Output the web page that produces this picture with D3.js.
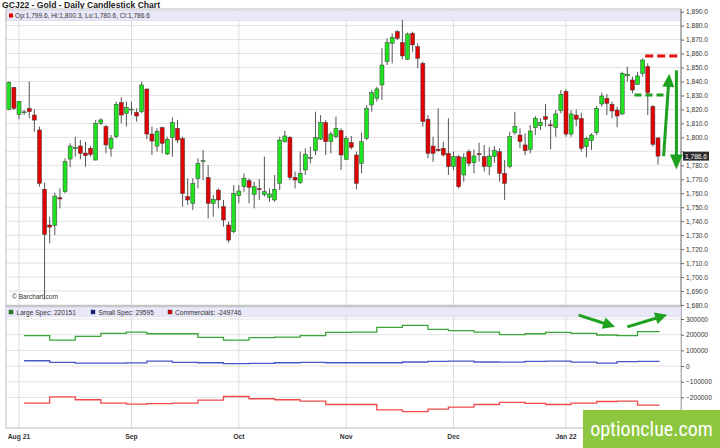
<!DOCTYPE html>
<html><head><meta charset="utf-8">
<script src="https://cdn.jsdelivr.net/npm/d3@7"></script>
<style>body{margin:0;background:#fff}svg{display:block}</style>
</head><body>
<svg id="c" width="720" height="448"></svg>
<script>
// ---- DATA ----
const opens  = [1820.1,1835.8,1816.5,1817.8,1820.8,1816.0,1805.3,1762.8,1737.3,1736.8,1756.8,1761.2,1784.5,1792.0,1793.8,1788.8,1792.2,1783.8,1810.1,1807.7,1792.2,1800.5,1824.9,1817.2,1820.1,1817.9,1818.4,1834.6,1802.4,1793.8,1807.0,1788.1,1800.0,1806.5,1799.1,1757.6,1752.8,1770.7,1783.1,1771.2,1752.8,1762.3,1750.4,1737.3,1732.5,1758.3,1764.7,1769.0,1759.2,1763.3,1759.2,1757.1,1755.2,1767.1,1797.0,1800.0,1771.4,1767.6,1776.7,1785.5,1790.5,1798.8,1810.6,1796.9,1800.5,1804.8,1784.3,1796.2,1787.4,1781.4,1799.3,1823.2,1828.0,1837.5,1854.2,1867.4,1875.7,1867.8,1855.9,1874.5,1865.0,1853.0,1813.0,1793.8,1791.5,1792.2,1788.6,1779.1,1786.2,1773.1,1789.8,1781.9,1788.3,1786.2,1779.1,1786.2,1789.8,1774.3,1779.1,1803.4,1801.7,1794.6,1791.4,1807.0,1808.4,1814.9,1809.0,1807.2,1819.1,1832.8,1802.4,1816.0,1813.6,1793.4,1797.7,1803.4,1823.9,1828.0,1823.7,1819.6,1816.8,1844.0,1841.1,1838.0,1845.9,1850.6,1822.0,1799.6];
const highs  = [1840.0,1836.3,1826.0,1819.6,1839.9,1820.0,1807.7,1767.6,1743.2,1760.4,1763.5,1785.0,1795.8,1800.5,1798.1,1796.9,1793.8,1812.5,1813.7,1808.9,1801.7,1825.6,1828.7,1825.6,1825.6,1820.8,1839.9,1835.1,1807.7,1806.5,1807.7,1800.5,1814.4,1812.5,1800.5,1770.7,1770.7,1785.0,1791.0,1780.2,1758.7,1763.5,1755.2,1739.7,1765.9,1765.9,1774.3,1770.7,1768.3,1770.2,1786.2,1763.5,1773.1,1800.5,1804.8,1801.0,1775.5,1789.8,1792.2,1793.4,1818.4,1816.0,1812.5,1804.1,1814.9,1806.5,1801.0,1801.0,1789.8,1803.4,1823.2,1833.9,1836.3,1863.8,1870.9,1874.5,1876.9,1884.0,1875.0,1875.7,1867.4,1854.2,1816.0,1800.5,1820.8,1796.9,1813.7,1789.8,1787.4,1788.6,1791.4,1791.4,1796.2,1794.6,1792.9,1793.8,1792.2,1783.8,1804.1,1818.4,1806.5,1802.9,1808.9,1815.3,1813.7,1823.9,1812.5,1819.6,1833.9,1834.4,1819.6,1820.0,1817.7,1800.5,1802.9,1822.5,1832.0,1831.1,1825.6,1822.0,1847.0,1850.6,1843.5,1847.0,1856.6,1853.0,1823.2,1800.3];
const lows   = [1819.5,1819.6,1813.0,1816.0,1813.7,1804.0,1764.7,1684.0,1724.2,1730.1,1749.2,1760.0,1778.6,1786.2,1784.3,1779.0,1786.2,1783.5,1808.9,1788.6,1786.2,1799.3,1810.1,1807.7,1816.0,1811.3,1817.2,1798.6,1787.4,1789.8,1788.6,1787.4,1786.2,1795.8,1750.4,1751.6,1748.0,1763.5,1769.5,1742.0,1743.2,1749.2,1736.1,1724.6,1731.3,1752.8,1761.1,1752.8,1749.2,1755.2,1757.6,1754.0,1754.0,1762.3,1796.2,1769.5,1763.5,1766.6,1773.1,1781.4,1787.4,1798.1,1787.4,1788.6,1799.3,1776.7,1784.3,1791.4,1762.8,1774.3,1798.1,1818.4,1825.6,1826.8,1851.8,1853.0,1869.7,1855.9,1855.4,1861.4,1849.5,1807.7,1785.0,1782.6,1789.8,1786.2,1773.1,1776.7,1763.5,1768.3,1779.1,1774.3,1782.6,1775.5,1773.1,1781.9,1768.3,1755.2,1777.9,1801.7,1792.2,1787.4,1788.6,1801.7,1805.3,1807.7,1791.4,1800.5,1817.2,1800.5,1800.5,1808.0,1789.8,1785.7,1791.0,1801.7,1822.0,1816.0,1813.7,1807.2,1816.0,1839.9,1831.6,1837.5,1843.5,1816.0,1793.4,1780.6];
const closes = [1839.4,1820.8,1825.8,1818.3,1818.4,1812.4,1767.1,1730.6,1735.8,1758.0,1755.9,1782.6,1793.8,1792.6,1788.6,1786.9,1787.9,1810.1,1812.5,1794.6,1799.3,1823.7,1816.0,1821.5,1820.3,1815.3,1837.5,1802.4,1797.4,1804.1,1795.8,1798.6,1810.8,1798.1,1759.9,1755.2,1767.1,1781.4,1783.3,1752.8,1755.7,1755.2,1740.9,1726.5,1759.9,1761.6,1770.7,1764.2,1764.7,1763.0,1761.1,1759.5,1762.8,1798.1,1801.0,1771.4,1769.5,1774.3,1787.9,1785.7,1799.8,1810.6,1796.9,1802.4,1806.5,1787.4,1799.3,1792.9,1767.1,1796.9,1820.8,1832.0,1834.7,1851.8,1867.8,1871.7,1870.9,1858.3,1874.0,1866.2,1856.6,1811.3,1788.6,1788.6,1790.5,1787.4,1779.1,1786.2,1764.7,1785.7,1781.4,1786.7,1787.9,1779.1,1786.7,1790.5,1774.3,1767.1,1800.5,1807.7,1797.0,1790.5,1804.6,1813.7,1810.8,1812.9,1808.4,1816.8,1830.8,1802.4,1816.8,1813.0,1792.2,1799.3,1801.7,1820.8,1829.6,1824.4,1818.9,1815.3,1845.9,1845.2,1833.9,1844.0,1855.4,1832.0,1795.0,1786.6];

const monthIdx    = [2, 24, 45, 66, 87, 109];
const monthLabels = ["Aug 21", "Sep", "Oct", "Nov", "Dec", "Jan 22"];
const priceTicks  = [1680,1690,1700,1710,1720,1730,1740,1750,1760,1770,1780,1790,1800,1810,1820,1830,1840,1850,1860,1870,1880,1890];
const cotTicks    = [300000,200000,100000,0,-100000,-200000];

const cotIdx      = [3,8,13,18,23,27,32,37,42,47,52,57,62,67,72,77,82,86,91,96,101,105,110,115,119,123];
const cotEndIdx   = 127.3;
const largeSpec   = [193600,166000,189000,208500,217000,206000,206000,183000,166000,181000,185000,194000,215000,216000,247000,260000,234000,226000,217000,200000,206000,215000,208000,198000,194000,220151];
const smallSpec   = [34000,23000,19000,19000,20000,32000,24000,21000,16000,17000,21000,23000,21000,21000,21000,26000,30000,31000,26000,25000,30000,31000,25000,19000,28000,29595];
const commercials = [-236000,-196000,-215000,-236000,-243000,-239000,-236000,-217000,-194000,-208500,-215000,-223000,-245000,-245000,-279000,-291000,-274000,-262000,-245000,-232000,-238000,-245000,-236000,-226000,-223000,-249746];

// ---- LAYOUT ----
const svg = d3.select("#c");
const L = 6, R = 681, T1 = 9, B1 = 306, B2 = 428;
const FONT = "'Liberation Sans', Arial, sans-serif";
const x  = d3.scaleLinear().domain([0, 127]).range([8.8, 658]);
const yP = d3.scaleLinear().domain([1678.6, 1891.9]).range([307, 9]);
const yC = d3.scaleLinear().domain([-395000, 383000]).range([428, 306]);

svg.append("defs").html(
  '<clipPath id="cp1"><rect x="'+L+'" y="'+T1+'" width="'+(R-L)+'" height="'+(B1-T1)+'"/></clipPath>' +
  '<clipPath id="cpAx"><rect x="0" y="0" width="705" height="448"/></clipPath>');

svg.append("text").attr("x", 2).attr("y", 8).attr("font-family", FONT)
  .attr("font-size", 8.6).attr("font-weight", "bold").attr("fill", "#222")
  .text("GCJ22 - Gold - Daily Candlestick Chart");

svg.append("rect").attr("x", L).attr("y", T1).attr("width", R-L).attr("height", B2-T1).attr("fill", "#fff");

// grids
svg.append("g").selectAll("line").data(priceTicks).join("line")
  .attr("x1", L).attr("x2", R).attr("y1", d => yP(d)).attr("y2", d => yP(d))
  .attr("stroke", "#e2e2e2").attr("stroke-width", 1);
svg.append("g").selectAll("line").data(cotTicks).join("line")
  .attr("x1", L).attr("x2", R).attr("y1", d => yC(d)).attr("y2", d => yC(d))
  .attr("stroke", "#e2e2e2").attr("stroke-width", 1);
svg.append("g").selectAll("line").data(monthIdx).join("line")
  .attr("x1", d => x(d)).attr("x2", d => x(d)).attr("y1", T1).attr("y2", B2)
  .attr("stroke", "#dcdcdc").attr("stroke-width", 1);

// legend band upper
svg.append("rect").attr("x", L).attr("y", 10.5).attr("width", R-L).attr("height", 10)
  .attr("fill", "#e8e8f8").attr("stroke", "#d0d0e4").attr("stroke-width", 0.6);
const last = closes.length - 1;
const f1 = d3.format(",.1f");
svg.append("rect").attr("x", 9).attr("y", 13.5).attr("width", 4).attr("height", 4).attr("fill", "#e00000");
svg.append("text").attr("x", 15).attr("y", 18.3).attr("font-family", FONT).attr("font-size", 6.6).attr("fill", "#333")
  .text("Op:" + f1(opens[last]) + ", Hi:" + f1(highs[last]) + ", Lo:" + f1(lows[last]) + ", Cl:" + f1(closes[last]));

// candles
const cg = svg.append("g").attr("clip-path", "url(#cp1)");
const idx = d3.range(closes.length);
cg.selectAll("line.w").data(idx).join("line").attr("class", "w")
  .attr("x1", i => x(i)).attr("x2", i => x(i))
  .attr("y1", i => yP(highs[i])).attr("y2", i => yP(lows[i]))
  .attr("stroke", "#555").attr("stroke-width", 1);
cg.selectAll("rect.b").data(idx).join("rect").attr("class", "b")
  .attr("x", i => x(i) - 2).attr("width", 4)
  .attr("y", i => yP(Math.max(opens[i], closes[i])))
  .attr("height", i => Math.max(1, Math.abs(yP(opens[i]) - yP(closes[i]))))
  .attr("fill", i => closes[i] >= opens[i] ? "#1fe31f" : "#e30000")
  .attr("stroke", "#3a3a3a").attr("stroke-width", 0.5);

svg.append("text").attr("x", 12).attr("y", 299).attr("font-family", FONT).attr("font-size", 6.6)
  .attr("fill", "#333").text("© Barchart.com");

// panel borders
svg.append("rect").attr("x", L).attr("y", T1).attr("width", R-L).attr("height", B1-T1)
  .attr("fill", "none").attr("stroke", "#aaa").attr("stroke-width", 0.8);
svg.append("rect").attr("x", L).attr("y", B1).attr("width", R-L).attr("height", B2-B1)
  .attr("fill", "none").attr("stroke", "#aaa").attr("stroke-width", 0.8);

// lower legend band
svg.append("rect").attr("x", L).attr("y", 307.5).attr("width", R-L).attr("height", 9)
  .attr("fill", "#e8e8f8").attr("stroke", "#d0d0e4").attr("stroke-width", 0.6);
const legs = [
  {t: "Large Spec: " + largeSpec[largeSpec.length-1], c: "#1a8a1a", sx: 9,   tx: 16.5},
  {t: "Small Spec: " + smallSpec[smallSpec.length-1], c: "#1a1a8a", sx: 91,  tx: 98.5},
  {t: "Commercials: " + commercials[commercials.length-1], c: "#e00000", sx: 168, tx: 175}
];
legs.forEach(l => {
  svg.append("rect").attr("x", l.sx).attr("y", 310).attr("width", 4).attr("height", 4)
    .attr("fill", l.c).attr("stroke", "#333").attr("stroke-width", 0.4);
  svg.append("text").attr("x", l.tx).attr("y", 314.6).attr("font-family", FONT).attr("font-size", 6.6)
    .attr("fill", "#333").text(l.t);
});

// COT step lines
const stepLine = d3.line().x(d => x(d[0])).y(d => yC(d[1])).curve(d3.curveStepAfter);
[[largeSpec, "#3aa63a"], [smallSpec, "#4657c8"], [commercials, "#f24a4a"]].forEach(([vals, col]) => {
  const pts = cotIdx.map((k, j) => [k, vals[j]]);
  pts.push([cotEndIdx, vals[vals.length-1]]);
  svg.append("path").attr("d", stepLine(pts)).attr("fill", "none")
    .attr("stroke", col).attr("stroke-width", 1.3);
});

// axes
const lp = yP(closes[last]);
const axU = svg.append("g").attr("transform", "translate(" + R + ",0)")
  .call(d3.axisRight(yP).tickValues(priceTicks)
    .tickFormat(d => Math.abs(yP(d) - lp) < 8 ? "" : f1(d)).tickSize(3).tickPadding(2));
const axL = svg.append("g").attr("transform", "translate(" + R + ",0)").attr("clip-path", "url(#cpAx)")
  .call(d3.axisRight(yC).tickValues(cotTicks).tickFormat(d3.format("d")).tickSize(3).tickPadding(2));
[axU, axL].forEach(a => {
  a.select(".domain").attr("stroke", "#888");
  a.selectAll(".tick line").attr("stroke", "#666");
  a.selectAll("text").attr("font-family", FONT).attr("font-size", 6.6).attr("fill", "#333");
});
axU.select(".domain").attr("d", "M0," + T1 + "V" + B1);
axL.select(".domain").attr("d", "M0," + B1 + "V" + B2);

// last price box
svg.append("rect").attr("x", R + 2).attr("y", lp - 4.5).attr("width", 26).attr("height", 9).attr("fill", "#2b2b2b");
svg.append("text").attr("x", R + 4).attr("y", lp + 2.4).attr("font-family", FONT).attr("font-size", 6.6)
  .attr("fill", "#fff").text(f1(closes[last]));

// month labels
svg.append("g").selectAll("text").data(monthIdx).join("text")
  .attr("x", d => x(d)).attr("y", 438.5).attr("text-anchor", "middle")
  .attr("font-family", FONT).attr("font-size", 6.8).attr("font-weight", "bold").attr("fill", "#333")
  .text((d, i) => monthLabels[i]);

// ---- annotations (in data coordinates) ----
const AG = "#1fa01f";
function arrow(x1, y1, x2, y2, hl, hw, col, w) {
  const dx = x2 - x1, dy = y2 - y1, len = Math.hypot(dx, dy), ux = dx/len, uy = dy/len;
  const bx = x2 - ux*hl, by = y2 - uy*hl;
  svg.append("line").attr("x1", x1).attr("y1", y1).attr("x2", bx + ux).attr("y2", by + uy)
    .attr("stroke", col).attr("stroke-width", w);
  svg.append("path").attr("d", "M" + x2 + "," + y2 + "L" + (bx - uy*hw) + "," + (by + ux*hw) + "L" + (bx + uy*hw) + "," + (by - ux*hw) + "Z")
    .attr("fill", col);
}
svg.append("line").attr("x1", x(124.5)).attr("x2", R).attr("y1", yP(1858.3)).attr("y2", yP(1858.3))
  .attr("stroke", "#e81010").attr("stroke-width", 3).attr("stroke-dasharray", "8,4");
svg.append("line").attr("x1", x(122.4)).attr("x2", x(129)).attr("y1", yP(1830.3)).attr("y2", yP(1830.3))
  .attr("stroke", AG).attr("stroke-width", 3).attr("stroke-dasharray", "7,4");
arrow(x(128.1), yP(1786.5), x(129.2), yP(1845.5), 13, 6, AG, 3);
arrow(x(130.6), yP(1848), x(130.6), yP(1777), 15, 6.5, AG, 3);
arrow(x(111.5), yC(325000), x(118.6), yC(250000), 12, 6, AG, 3);
arrow(x(121.0), yC(250000), x(128.8), yC(327000), 12, 6, AG, 3);

// watermark
svg.append("rect").attr("x", 583).attr("y", 410).attr("width", 137).attr("height", 38).attr("fill", "#8dc63f");
svg.append("text").attr("x", 651.5).attr("y", 435.5).attr("text-anchor", "middle")
  .attr("font-family", "'Liberation Sans Narrow', 'Roboto Condensed', Roboto, sans-serif")
  .attr("font-size", 20).attr("fill", "#fff")
  .text("optionclue.com");
</script>
</body></html>
